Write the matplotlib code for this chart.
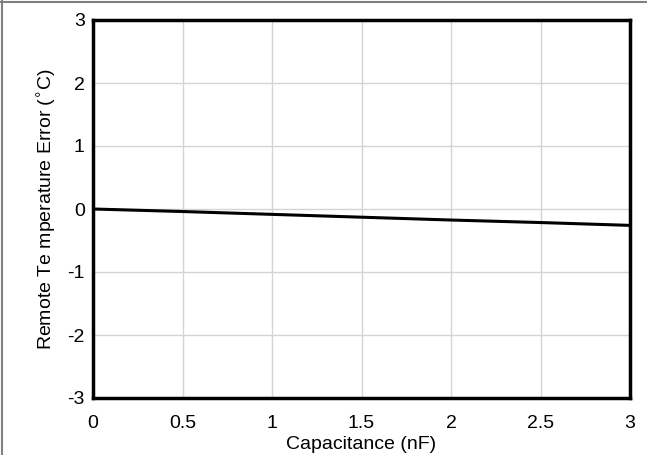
import matplotlib
matplotlib.use("Agg")
import matplotlib.pyplot as plt
from matplotlib.lines import Line2D

plt.rcParams['font.family'] = ['Liberation Sans', 'DejaVu Sans']

capacitance = [0.0, 0.5, 1.0, 1.5, 2.0, 2.5, 3.0]
error = [0.0, -0.04, -0.085, -0.13, -0.175, -0.215, -0.26]
xticks = [0, 0.5, 1, 1.5, 2, 2.5, 3]
xticklabels = ['0', '0.5', '1', '1.5', '2', '2.5', '3']
yticks = [-3, -2, -1, 0, 1, 2, 3]
yticklabels = ['-3', '-2', '-1', '0', '1', '2', '3']

fig = plt.figure(figsize=(6.47, 4.55), dpi=100)
ax = fig.add_axes([93/647, 1-398/455, (630-93)/647, (398-20)/455])

ax.plot(capacitance, error, color='black', linewidth=2.2, solid_capstyle='butt')
ax.set_xlim(0, 3)
ax.set_ylim(-3, 3)
ax.set_xticks(xticks)
ax.set_xticklabels(xticklabels)
ax.set_yticks(yticks)
ax.set_yticklabels(yticklabels)
ax.tick_params(axis='y', length=0, labelsize=14, pad=6, colors='black')
ax.tick_params(axis='x', length=0, labelsize=14, pad=12, colors='black')
ax.grid(True, color='#d4d4d4', linewidth=1)
ax.set_axisbelow(True)
for s in ax.spines.values():
    s.set_linewidth(2.5)
    s.set_color('black')
ax.set_xlabel('Capacitance (nF)', fontsize=14, labelpad=3)
ax.set_ylabel('Remote Te mperature Error ($^{\\circ}$C)', fontsize=14, labelpad=6)

fig.add_artist(Line2D([0, 1], [1-1.5/455, 1-1.5/455], transform=fig.transFigure, color='#808080', linewidth=1.5))
fig.add_artist(Line2D([1.5/647, 1.5/647], [0, 1], transform=fig.transFigure, color='#808080', linewidth=1.5))

fig.savefig('out.png', dpi=100)
